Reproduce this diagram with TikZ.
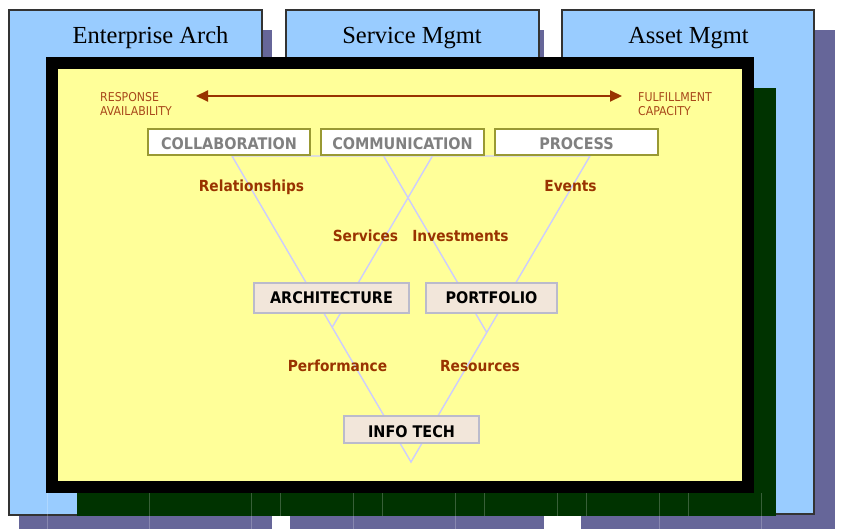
\documentclass[tikz,border=0pt]{standalone}
\usepackage{fontspec}
\setmainfont{Liberation Serif}
\newfontfamily\lblfont{DejaVu Sans Condensed}
\usetikzlibrary{arrows.meta}

\definecolor{skyblue}{HTML}{99CCFF}
\definecolor{slate}{HTML}{666699}
\definecolor{forest}{HTML}{003300}
\definecolor{paleyellow}{HTML}{FFFF99}
\definecolor{rust}{HTML}{993300}
\definecolor{rustlight}{HTML}{A8481A}
\definecolor{olive}{HTML}{999933}
\definecolor{beige}{HTML}{F2E6DA}
\definecolor{beigeedge}{HTML}{BBBBCC}
\definecolor{lavender}{HTML}{CCCCFF}
\definecolor{midgray}{HTML}{808080}

\tikzset{
  x=1pt, y=-1pt,
  domainbox/.style={fill=skyblue, draw=black!80, line width=1.2pt},
  domainshadow/.style={fill=slate},
  tileseam/.style={draw=white, opacity=0.22, line width=0.6pt},
  domaintitle/.style={font=\fontsize{24.5}{28}\selectfont, anchor=base, inner sep=0pt},
  tierlink/.style={draw=lavender, line width=1.4pt},
  boxfont/.style={font=\lblfont\bfseries\fontsize{16}{19}\selectfont},
  topbox/.style={boxfont, draw=olive, line width=1.8pt, fill=white, inner sep=0pt,
    text=midgray, text height=14.5pt, text depth=0pt},
  midbox/.style={boxfont, draw=beigeedge, line width=1.5pt, fill=beige, inner sep=0pt,
    text=black},
  flowlabel/.style={font=\lblfont\bfseries\fontsize{15.3}{18}\selectfont, text=rust,
    anchor=base, inner sep=0pt},
  axislabel/.style={font=\lblfont\fontsize{12.2}{14}\selectfont, text=rustlight,
    anchor=base west, inner sep=0pt},
}

\begin{document}
\begin{tikzpicture}
\useasboundingbox (0,0) rectangle (841,529);
\clip (0,0) rectangle (841,529);

% shadows of the three domain panels
\fill[domainshadow] (19,30) rectangle (272,540);
\fill[domainshadow] (290,30) rectangle (544,540);
\fill[domainshadow] (581,30) rectangle (835,540);

% domain panels
\draw[domainbox] (9,10) rectangle (262,515);
\draw[domainbox] (286,10) rectangle (539,515);
\draw[domainbox] (562,10) rectangle (814,514);

\node[domaintitle] (ea) at (150.5,43.5) {Enterprise Arch};
\node[domaintitle] (sm) at (412,43.5) {Service Mgmt};
\node[domaintitle] (am) at (688.5,43.5) {Asset Mgmt};

% framed central panel with its drop shadow
\fill[forest] (77,88) rectangle (776,516);
\fill[black] (46,57) rectangle (754,493);
\fill[paleyellow] (58,69) rectangle (742,481);

% faint seams of the tiled fills below and beside the frame
\foreach \sx in {47,149,251,353,455,557,659,761} {
  \draw[tileseam] (\sx,493) -- (\sx,529);
}
\foreach \sx in {280,382,484,586,688} {
  \draw[tileseam] (\sx,493) -- (\sx,516);
}

% axis
\node[axislabel] (resp) at (100,102) {RESPONSE};
\node[axislabel] (avail) at (100,116) {AVAILABILITY};
\node[axislabel] (fulfil) at (638,102) {FULFILLMENT};
\node[axislabel] (capac) at (638,116) {CAPACITY};
\coordinate (axl) at (196,96);
\coordinate (axr) at (622,96);
\draw[rust, line width=2pt,
  {Triangle[length=12pt,width=11pt]}-{Triangle[length=12pt,width=11pt]}] (axl) -- (axr);

% converging links
\coordinate (vl) at (232,156);
\coordinate (vr) at (590,156);
\coordinate (vb) at (411,462);
\coordinate (al) at (383,155);
\coordinate (ae) at (486.7,332.4);
\coordinate (bl) at (433,155);
\coordinate (be) at (332.2,327.3);
\draw[tierlink] (vl) -- (vb) -- (vr) -- cycle;
\draw[tierlink] (al) -- (ae);
\draw[tierlink] (bl) -- (be);

% top tier
\node[topbox, minimum width=162pt, minimum height=26pt] (collab) at (229,142) {COLLABORATION};
\node[topbox, minimum width=163pt, minimum height=26pt] (commun) at (402.5,142) {COMMUNICATION};
\node[topbox, minimum width=163pt, minimum height=26pt] (process) at (576.5,142) {PROCESS};

% middle and bottom tiers
\node[midbox, minimum width=155pt, minimum height=30pt] (arch) at (331.5,298) {ARCHITECTURE};
\node[midbox, minimum width=131pt, minimum height=30pt] (portf) at (491.5,298) {PORTFOLIO};
\node[midbox, minimum width=135pt, minimum height=27pt, text height=15pt, text depth=0pt]
  (infotech) at (411.5,429.5) {INFO TECH};

% flow labels
\node[flowlabel] (rel) at (251.5,192) {Relationships};
\node[flowlabel] (evt) at (570.5,192) {Events};
\node[flowlabel] (svc) at (365.5,241.5) {Services};
\node[flowlabel] (inv) at (460.5,241.5) {Investments};
\node[flowlabel] (perf) at (337.5,371) {Performance};
\node[flowlabel] (res) at (480,371) {Resources};
\end{tikzpicture}
\end{document}
